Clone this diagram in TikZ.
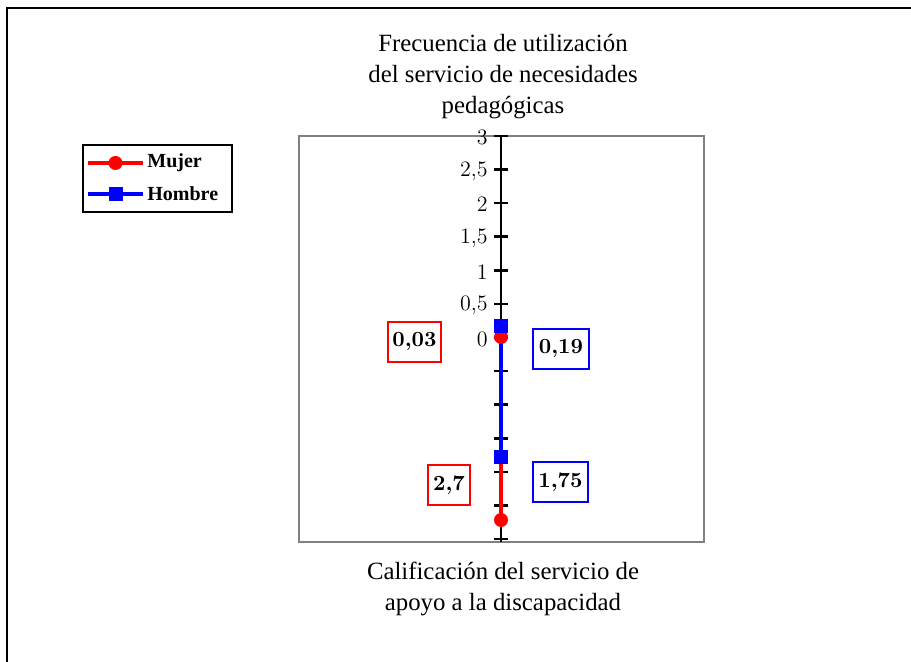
\documentclass[tikz,border=0pt]{standalone}
\usepackage{fontspec}
\newfontfamily\garafont{Liberation Serif}
\usepackage{xcolor}
\definecolor{frame_grey}{RGB}{128,128,128}
\usetikzlibrary{positioning}

\begin{document}
\begin{tikzpicture}
[
    x = 0.5pt, y = -0.5pt,
    axistitle/.style = {font = \garafont\fontsize{12.4}{15.5}\selectfont, align = center},
    ticklabel/.style = {anchor = east, inner sep = 1pt, font = \fontsize{11}{12}\selectfont},
    valbox/.style = {draw, line width = 0.8pt, inner xsep = 2pt, minimum height = 20pt,
                     font = \bfseries\fontsize{10.8}{12}\selectfont},
    mujerline/.style = {red, line width = 2pt},
    hombreline/.style = {blue, line width = 2pt},
    mujermark/.style = {circle, fill = red, inner sep = 0pt, minimum size = 7pt},
    hombremark/.style = {rectangle, fill = blue, inner sep = 0pt, minimum size = 7pt},
    legtext/.style = {anchor = west, inner sep = 0pt, font = \garafont\bfseries\fontsize{10}{11}\selectfont}
]
\useasboundingbox (0,0) rectangle (911,662);
% outer frame (only top and left visible)
\draw[line width = 1.3pt] (7,662) -- (7,8) -- (911,8);

% plot area
\draw[frame_grey, line width = 0.9pt] (299,136) rectangle (704,542);

% axis
\coordinate (axtop) at (501,137);
\coordinate (axbot) at (501,542);
\draw[line width = 1.3pt] (axtop) -- (axbot);
\foreach \k in {-6,...,6}
	\draw[line width = 1.3pt] ({494},{337.5-33.6*\k}) -- ({508},{337.5-33.6*\k});
\foreach \k/\lab in {0/0, 1/{0,5}, 2/1, 3/{1,5}, 4/2, 5/{2,5}, 6/3}
	\node[ticklabel] (tick\k) at ({490},{339-33.6*\k}) {\lab};

% titles
\node[axistitle] (ytitle) at (503,77) {Frecuencia de utilización\\del servicio de necesidades\\pedagógicas};
\node[axistitle] (xtitle) at (503,589) {Calificación del servicio de\\apoyo a la discapacidad};

% data
\coordinate (m1) at (501,337);
\coordinate (m2) at (501,520);
\coordinate (h1) at (501,326);
\coordinate (h2) at (501,457);
\draw[mujerline] (m1) -- (m2);
\draw[hombreline] (h1) -- (h2);
\node[mujermark] (mp1) at (m1) {};
\node[mujermark] (mp2) at (m2) {};
\node[hombremark] (hp1) at (h1) {};
\node[hombremark] (hp2) at (h2) {};

% value labels
\node[valbox, red, minimum width = 26.5pt] (mv1) at (414.5,342) {\textcolor{black}{0,03}};
\node[valbox, red, minimum width = 21pt] (mv2) at (449,485) {\textcolor{black}{2,7}};
\node[valbox, blue, minimum width = 28pt] (hv1) at (561,349) {\textcolor{black}{0,19}};
\node[valbox, blue, minimum width = 27.5pt] (hv2) at (560.5,482) {\textcolor{black}{1,75}};

% legend
\node[draw, line width = 0.9pt, minimum width = 74.5pt, minimum height = 33.5pt] (legend) at (157.5,178.5) {};
\coordinate (lm1) at (88,163);
\coordinate (lm2) at (143,163);
\coordinate (lh1) at (88,194);
\coordinate (lh2) at (143,194);
\draw[mujerline] (lm1) -- (lm2);
\draw[hombreline] (lh1) -- (lh2);
\node[mujermark] (lmp) at (115.5,163) {};
\node[hombremark] (lhp) at (115.5,194) {};
\node[legtext, right = 2pt of lm2] (lmt) {Mujer};
\node[legtext, right = 2pt of lh2] (lht) {Hombre};
\end{tikzpicture}
\end{document}
